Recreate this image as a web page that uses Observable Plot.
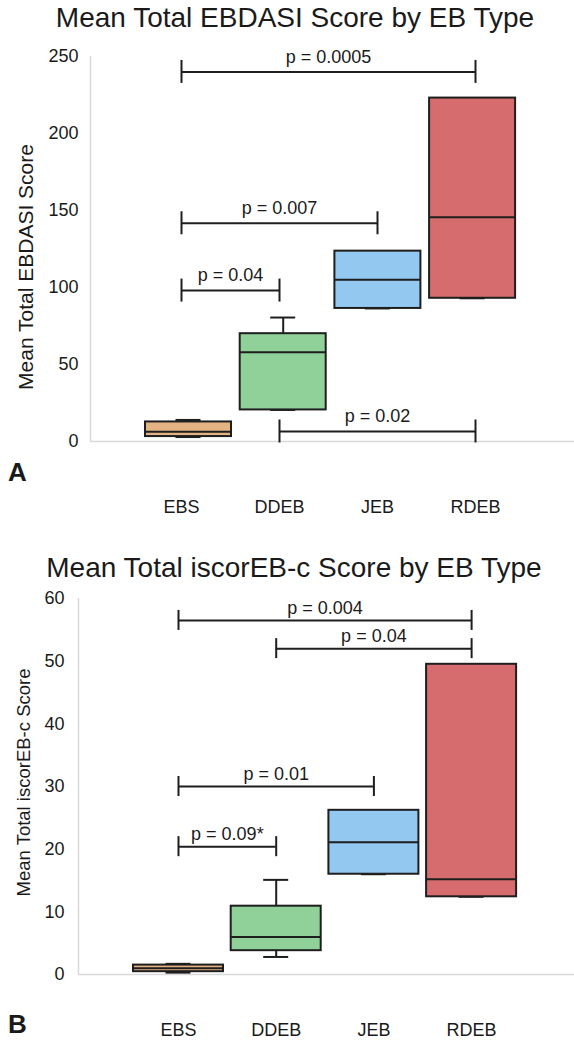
<!DOCTYPE html>
<html>
<head>
<meta charset="utf-8">
<script src="https://cdn.jsdelivr.net/npm/d3@7"></script>
<script src="https://cdn.jsdelivr.net/npm/@observablehq/plot@0.6"></script>
<style>
  html, body { margin: 0; padding: 0; background: #fff; }
  #page { position: relative; width: 574px; height: 1041px; overflow: hidden; font-family: "Liberation Sans", Arial, Helvetica, sans-serif; color: #1a1a1a; }
  .title { position: absolute; left: 0; width: 590px; text-align: center; font-size: 28px; line-height: 32px; white-space: nowrap; }
  .tag { position: absolute; left: 8px; font-size: 26px; font-weight: bold; line-height: 26px; }
  .panel { position: absolute; left: 0; }
  .panel svg { display: block; }
</style>
</head>
<body>
<div id="page">
  <div class="title" style="top:2px">Mean Total EBDASI Score by EB Type</div>
  <div class="panel" id="panelA" style="top:0px"></div>
  <div class="tag" style="top:459px">A</div>
  <div class="title" style="top:552px;left:-1px">Mean Total iscorEB-c Score by EB Type</div>
  <div class="panel" id="panelB" style="top:520px"></div>
  <div class="tag" style="top:1011px">B</div>
</div>
<script>
// ---- categories & colours ----
const types = ["EBS", "DDEB", "JEB", "RDEB"];
const fills = ["#e3b384", "#8fd199", "#93c8f1", "#d76c6e"];

// ---- Panel A: Mean Total EBDASI Score ----
const ebdasiMin    = [2.9, 20.5, 86.4, 93];
const ebdasiQ1     = [3.2, 20.5, 86.4, 93];
const ebdasiMedian = [6.3, 58, 105, 145.6];
const ebdasiQ3     = [12.7, 70, 123.6, 223];
const ebdasiMax    = [14, 80.5, 123.6, 223];
const ebdasiTestFrom = ["EBS", "EBS", "EBS", "DDEB"];
const ebdasiTestTo   = ["RDEB", "JEB", "DDEB", "RDEB"];
const ebdasiTestY    = [240, 141.7, 98, 6.5];
const ebdasiTestP    = ["p = 0.0005", "p = 0.007", "p = 0.04", "p = 0.02"];
const ebdasiTicks    = [0, 50, 100, 150, 200, 250];

// ---- Panel B: Mean Total iscorEB-c Score ----
const iscorMin    = [0.3, 2.8, 16, 12.4];
const iscorQ1     = [0.45, 3.8, 16, 12.4];
const iscorMedian = [1.0, 6.0, 21.1, 15.2];
const iscorQ3     = [1.5, 10.9, 26.2, 49.5];
const iscorMax    = [1.7, 15.1, 26.2, 49.5];
const iscorTestFrom = ["EBS", "DDEB", "EBS", "EBS"];
const iscorTestTo   = ["RDEB", "RDEB", "JEB", "DDEB"];
const iscorTestY    = [56.5, 52, 30, 20.4];
const iscorTestP    = ["p = 0.004", "p = 0.04", "p = 0.01", "p = 0.09*"];
const iscorTicks    = [0, 10, 20, 30, 40, 50, 60];

function panel(o) {
  const idx = d3.range(types.length);
  // box centres may sit on a slightly different grid than labels/brackets (as in the source figure)
  const bx = i => (o.boxFirst - o.firstCenter + i * o.boxStep) / o.step;
  const boxes = idx.map(i => ({i, c: bx(i), type: types[i], min: o.min[i], q1: o.q1[i], median: o.median[i], q3: o.q3[i], max: o.max[i]}));
  const tests = o.testFrom.map((f, k) => ({a: types.indexOf(f), b: types.indexOf(o.testTo[k]), y: o.testY[k], p: o.testP[k]}));
  const width = 574, marginRight = 0;
  const xLo = -(o.firstCenter - o.marginLeft) / o.step;
  const xHi = xLo + (width - o.marginLeft - marginRight) / o.step;
  const pxPerUnit = (o.height - o.marginTop - o.marginBottom) / o.yMax;
  const capU = o.capPx / pxPerUnit;
  const capHalf = 12.5 / o.step;
  const half = o.boxHalfPx / o.step;
  const ink = "#1e1e1e";
  return Plot.plot({
    width, height: o.height,
    marginLeft: o.marginLeft, marginRight, marginTop: o.marginTop, marginBottom: o.marginBottom,
    style: {fontFamily: '"Liberation Sans", Arial, sans-serif', color: "#1a1a1a", background: "transparent", overflow: "visible"},
    x: {domain: [xLo, xHi], axis: null},
    y: {domain: [0, o.yMax], axis: null},
    color: {domain: types, range: fills},
    marks: [
      Plot.ruleY([0], {stroke: "#d9d9d9", strokeWidth: 1.5}),
      Plot.ruleX([xLo], {y1: 0, y2: o.yMax, stroke: "#d9d9d9", strokeWidth: 1.5}),
      Plot.axisY({ticks: o.ticks, tickSize: 0, tickPadding: o.tickPadY, fontSize: 18}),
      Plot.axisX({ticks: idx, tickFormat: i => types[i], tickSize: 0, tickPadding: o.tickPadX, fontSize: 18}),
      Plot.text([o.label], {frameAnchor: "left", textAnchor: "middle", rotate: -90, dx: o.labelDx, dy: o.labelDy, fontSize: o.labelSize, fill: "#1a1a1a"}),
      // whiskers and caps
      Plot.ruleX(boxes, {x: "c", y1: "min", y2: "max", stroke: ink, strokeWidth: 2}),
      Plot.ruleY(boxes, {x1: d => d.c - capHalf, x2: d => d.c + capHalf, y: "max", stroke: ink, strokeWidth: 2}),
      Plot.ruleY(boxes, {x1: d => d.c - capHalf, x2: d => d.c + capHalf, y: "min", stroke: ink, strokeWidth: 2}),
      // boxes
      Plot.rectY(boxes, {x1: d => d.c - half, x2: d => d.c + half, y1: "q1", y2: "q3", fill: "type", stroke: ink, strokeWidth: 2}),
      Plot.ruleY(boxes, {x1: d => d.c - half, x2: d => d.c + half, y: "median", stroke: ink, strokeWidth: 2}),
      // significance brackets
      Plot.ruleY(tests, {x1: "a", x2: "b", y: "y", stroke: ink, strokeWidth: 2}),
      Plot.ruleX(tests, {x: "a", y1: d => d.y - capU, y2: d => d.y + capU, stroke: ink, strokeWidth: 2}),
      Plot.ruleX(tests, {x: "b", y1: d => d.y - capU, y2: d => d.y + capU, stroke: ink, strokeWidth: 2}),
      Plot.text(tests, {x: d => (d.a + d.b) / 2, y: "y", text: "p", dy: o.pDy, fontSize: 18, lineAnchor: "middle", fill: "#1a1a1a"})
    ]
  });
}

document.getElementById("panelA").append(panel({
  min: ebdasiMin, q1: ebdasiQ1, median: ebdasiMedian, q3: ebdasiQ3, max: ebdasiMax,
  testFrom: ebdasiTestFrom, testTo: ebdasiTestTo, testY: ebdasiTestY, testP: ebdasiTestP,
  ticks: ebdasiTicks, yMax: 250, label: "Mean Total EBDASI Score",
  height: 520, marginLeft: 90, marginTop: 56, marginBottom: 79,
  firstCenter: 181, step: 98, boxFirst: 188, boxStep: 94.7, boxHalfPx: 43, capPx: 11.5,
  tickPadY: 12, tickPadX: 59, labelDx: -64, labelDy: 18, labelSize: 21, pDy: -15
}));

document.getElementById("panelB").append(panel({
  min: iscorMin, q1: iscorQ1, median: iscorMedian, q3: iscorQ3, max: iscorMax,
  testFrom: iscorTestFrom, testTo: iscorTestTo, testY: iscorTestY, testP: iscorTestP,
  ticks: iscorTicks, yMax: 60, label: "Mean Total iscorEB-c Score",
  height: 521, marginLeft: 78, marginTop: 78, marginBottom: 67,
  firstCenter: 178, step: 97.7, boxFirst: 178, boxStep: 97.7, boxHalfPx: 45, capPx: 10,
  tickPadY: 14, tickPadX: 49, labelDx: -54, labelDy: -4, labelSize: 18.5, pDy: -12
}));
</script>
</body>
</html>
